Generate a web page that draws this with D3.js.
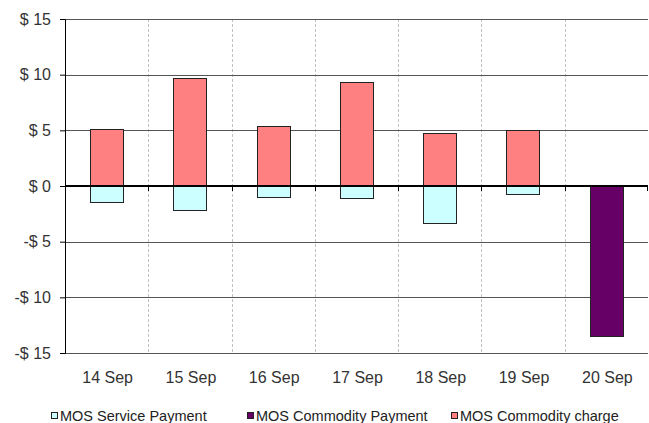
<!DOCTYPE html>
<html>
<head>
<meta charset="utf-8">
<script src="https://cdn.jsdelivr.net/npm/d3@7"></script>
<style>
  body { margin: 0; background: #fff; }
  text { font-family: "Liberation Sans", Arial, sans-serif; }
</style>
</head>
<body>
<div id="chart-area"></div>
<script>
// chart values
const dates = ["14 Sep", "15 Sep", "16 Sep", "17 Sep", "18 Sep", "19 Sep", "20 Sep"]
const servicePayment = [-1.4, -2.2, -1.0, -1.1, -3.3, -0.7, 0]
const commodityPayment = [0, 0, 0, 0, 0, 0, -13.5]
const commodityCharge = [5.1, 9.7, 5.4, 9.3, 4.8, 5.0, 0]
const yTicks = [-15, -10, -5, 0, 5, 10, 15]

const seriesNames = ["MOS Service Payment", "MOS Commodity Payment", "MOS Commodity charge"]
const seriesKeys = ["service", "payment", "charge"]
const colors = ["#ccffff", "#660066", "#ff8080"]

const W = 649, H = 423
const margin = { left: 65, right: 1, top: 19, bottom: 70 }
const width = W - margin.left - margin.right,
    height = H - margin.top - margin.bottom

const rows = dates.map((d, i) => ({
  date: d,
  service: servicePayment[i],
  payment: commodityPayment[i],
  charge: commodityCharge[i]
}))

const svg = d3.select("#chart-area")
  .append("svg")
    .attr("width", W)
    .attr("height", H)

const g = svg.append("g")
  .attr("transform", `translate(${margin.left}, ${margin.top})`)

const x = d3.scaleBand()
  .domain(dates)
  .range([0, width])

const y = d3.scaleLinear()
  .domain([-15, 15])
  .range([height, 0])

// vertical dashed separators
g.selectAll(".vgrid")
  .data(dates.slice(1))
  .enter().append("line")
    .attr("x1", d => Math.round(x(d)) + 0.5)
    .attr("x2", d => Math.round(x(d)) + 0.5)
    .attr("y1", 0)
    .attr("y2", height)
    .attr("stroke", "#c0c0c0")
    .attr("stroke-dasharray", "3,2")

// horizontal grid lines
g.selectAll(".hgrid")
  .data(yTicks.filter(t => t !== 0))
  .enter().append("line")
    .attr("x1", 0)
    .attr("x2", width)
    .attr("y1", d => Math.round(y(d)) + 0.5)
    .attr("y2", d => Math.round(y(d)) + 0.5)
    .attr("stroke", "#555")

// bars
const stack = d3.stack()
  .keys(seriesKeys)
  .offset(d3.stackOffsetDiverging)

const layers = stack(rows)
const barW = x.bandwidth() * 0.4

g.selectAll(".layer")
  .data(layers)
  .enter().append("g")
    .attr("fill", (d, i) => colors[i])
  .selectAll("rect")
  .data(d => d.filter(p => p[1] - p[0] !== 0))
  .enter().append("rect")
    .attr("x", d => Math.round(x(d.data.date) + (x.bandwidth() - barW) / 2) + 0.5)
    .attr("y", d => Math.round(y(d[1])) + 0.5)
    .attr("width", Math.round(barW))
    .attr("height", d => Math.round(y(d[0])) - Math.round(y(d[1])))
    .attr("stroke", "#222")
    .attr("stroke-width", 1)

// y axis
const yAxis = d3.axisLeft(y)
  .tickValues(yTicks)
  .tickSize(5)
  .tickPadding(9)
  .tickFormat(d => d < 0 ? `-$ ${-d}` : `$ ${d}`)

const yAxisGroup = g.append("g").call(yAxis)
yAxisGroup.select(".domain").attr("stroke", "#000")
yAxisGroup.selectAll(".tick line").attr("stroke", "#000")
yAxisGroup.selectAll(".tick text")
  .attr("fill", "#333")
  .attr("font-size", "16px")
  .attr("font-family", "'Liberation Sans', Arial, sans-serif")

// zero line
g.append("line")
  .attr("x1", 0)
  .attr("x2", width)
  .attr("y1", y(0))
  .attr("y2", y(0))
  .attr("stroke", "#000")
  .attr("stroke-width", 2)

// small ticks on the zero line at category boundaries
g.selectAll(".xtick")
  .data(dates.slice(1).concat(["end"]))
  .enter().append("line")
    .attr("x1", d => d === "end" ? width - 0.5 : Math.round(x(d)) + 0.5)
    .attr("x2", d => d === "end" ? width - 0.5 : Math.round(x(d)) + 0.5)
    .attr("y1", y(0))
    .attr("y2", y(0) + 5)
    .attr("stroke", "#000")

// category labels along the bottom
g.selectAll(".xlabel")
  .data(dates)
  .enter().append("text")
    .attr("x", d => x(d) + x.bandwidth() / 2 + 1)
    .attr("y", height + 30)
    .attr("text-anchor", "middle")
    .attr("fill", "#333")
    .attr("font-size", "16px")
    .text(d => d)

// legend
const legendX = [51, 247, 451]
const legend = svg.append("g")
  .attr("transform", `translate(0, ${H - 2.5})`)

seriesNames.forEach((name, i) => {
  const row = legend.append("g")
    .attr("transform", `translate(${legendX[i]}, 0)`)
  row.append("rect")
    .attr("x", 0.5)
    .attr("y", -8)
    .attr("width", 6)
    .attr("height", 6)
    .attr("fill", colors[i])
    .attr("stroke", "#222")
  row.append("text")
    .attr("x", 9)
    .attr("y", 0)
    .attr("font-size", "14.5px")
    .attr("fill", "#222")
    .text(name)
})
</script>
</body>
</html>
